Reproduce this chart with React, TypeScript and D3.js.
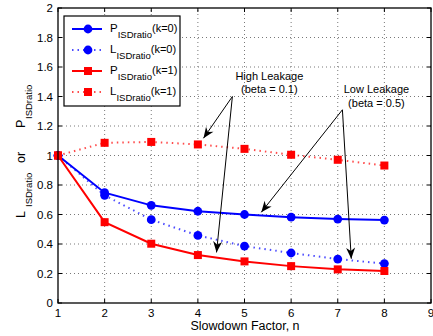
import * as d3 from "d3"

const factors = [1, 2, 3, 4, 5, 6, 7, 8]
const pK0 = [1, 0.748, 0.662, 0.622, 0.6, 0.582, 0.569, 0.562]
const lK0 = [1, 0.73, 0.565, 0.458, 0.386, 0.339, 0.298, 0.267]
const pK1 = [1, 0.548, 0.402, 0.325, 0.282, 0.25, 0.228, 0.217]
const lK1 = [1, 1.086, 1.092, 1.075, 1.045, 1.005, 0.971, 0.932]
const xTicks = [1, 2, 3, 4, 5, 6, 7, 8, 9]
const yTicks = [0, 0.2, 0.4, 0.6, 0.8, 1, 1.2, 1.4, 1.6, 1.8, 2]

const W = 433
const H = 336
const margin = { top: 8, right: 2, bottom: 33, left: 58 }
const FONT = "'Liberation Sans', Arial, Helvetica, sans-serif"

const BLUE = "#0000ff"
const RED = "#ff0000"

interface Series {
  name: string
  values: number[]
  color: string
  dotted: boolean
  marker: "circle" | "square"
}

const series: Series[] = [
  { name: "P", values: pK0, color: BLUE, dotted: false, marker: "circle" },
  { name: "L", values: lK0, color: BLUE, dotted: true, marker: "circle" },
  { name: "P", values: pK1, color: RED, dotted: false, marker: "square" },
  { name: "L", values: lK1, color: RED, dotted: true, marker: "square" },
]
const legendK = ["(k=0)", "(k=0)", "(k=1)", "(k=1)"]

function Marker({ x, y, s }: { x: number; y: number; s: Series }) {
  if (s.marker === "circle") return <circle cx={x} cy={y} r={4.4} fill={s.color} />
  return <rect x={x - 4} y={y - 4} width={8} height={8} fill={s.color} />
}

export default function App() {
  const x = d3.scaleLinear().domain([1, 9]).range([margin.left, W - margin.right])
  const y = d3.scaleLinear().domain([0, 2]).range([H - margin.bottom, margin.top])
  const x0 = x.range()[0], x1 = x.range()[1]
  const y0 = y.range()[0], y1 = y.range()[1]

  const line = (vals: number[]) =>
    d3.line<number>().x((_, i) => x(factors[i])).y(v => y(v))(vals) || ""

  // annotation geometry in data coordinates
  const hiAnchor = [4.74, 1.4]
  const loAnchor = [7.1, 1.31]
  const arrows: [number[], number[]][] = [
    [hiAnchor, [4.12, 1.117]],
    [hiAnchor, [4.4, 0.343]],
    [loAnchor, [5.36, 0.615]],
    [loAnchor, [7.29, 0.3]],
  ]

  const arrowHead = (from: number[], to: number[]) => {
    const fx = x(from[0]), fy = y(from[1]), tx = x(to[0]), ty = y(to[1])
    const a = Math.atan2(ty - fy, tx - fx)
    const len = 11, wid = 4.5
    const bx = tx - len * Math.cos(a), by = ty - len * Math.sin(a)
    const nx = -Math.sin(a) * wid, ny = Math.cos(a) * wid
    const mx = tx - len * 0.7 * Math.cos(a), my = ty - len * 0.7 * Math.sin(a)
    return `M${tx},${ty}L${bx + nx},${by + ny}L${mx},${my}L${bx - nx},${by - ny}Z`
  }

  const legX = 64, legY = 16, legW = 116, legH = 90
  const rowY = (i: number) => legY + 13 + i * 21

  return (
    <div style={{ position: "absolute", left: 0, top: 0 }}>
      <svg width={W} height={H} style={{ display: "block", fontFamily: FONT }}>
        <rect width={W} height={H} fill="#fff" />
        {/* grid */}
        <g stroke="#555" strokeWidth={0.8} strokeDasharray="1,3">
          {xTicks.slice(1, -1).map(t => (
            <line key={"gx" + t} x1={x(t)} x2={x(t)} y1={y0} y2={y1} />
          ))}
          {yTicks.slice(1, -1).map(t => (
            <line key={"gy" + t} x1={x0} x2={x1} y1={y(t)} y2={y(t)} />
          ))}
        </g>
        {/* ticks inward */}
        <g stroke="#000" strokeWidth={1}>
          {xTicks.map(t => (
            <g key={"tx" + t}>
              <line x1={x(t)} x2={x(t)} y1={y0} y2={y0 - 4} />
              <line x1={x(t)} x2={x(t)} y1={y1} y2={y1 + 4} />
            </g>
          ))}
          {yTicks.map(t => (
            <g key={"ty" + t}>
              <line x1={x0} x2={x0 + 4} y1={y(t)} y2={y(t)} />
              <line x1={x1} x2={x1 - 4} y1={y(t)} y2={y(t)} />
            </g>
          ))}
        </g>
        {/* tick labels */}
        <g fontSize={11.5} fill="#000">
          {xTicks.map(t => (
            <text key={"lx" + t} x={x(t)} y={y0 + 14} textAnchor="middle">{t}</text>
          ))}
          {yTicks.map(t => (
            <text key={"ly" + t} x={x0 - 5} y={y(t) + 4} textAnchor="end">{d3.format("~g")(t)}</text>
          ))}
        </g>
        {/* series */}
        {series.map((s, i) => (
          <g key={"s" + i}>
            <path
              d={line(s.values)}
              fill="none"
              stroke={s.color}
              strokeWidth={2}
              strokeDasharray={s.dotted ? "1.5,4" : undefined}
              strokeOpacity={s.dotted ? 0.7 : 1}
            />
            {s.values.map((v, j) => (
              <Marker key={j} x={x(factors[j])} y={y(v)} s={s} />
            ))}
          </g>
        ))}
        {/* frame */}
        <rect x={x0} y={y1} width={x1 - x0} height={y0 - y1} fill="none" stroke="#000" strokeWidth={1.3} />
        {/* annotations */}
        <g stroke="#000" strokeWidth={1} fill="#000">
          {arrows.map(([f, t], i) => (
            <g key={"ar" + i}>
              <line x1={x(f[0])} y1={y(f[1])} x2={x(t[0])} y2={y(t[1])} />
              <path d={arrowHead(f, t)} stroke="none" />
            </g>
          ))}
        </g>
        <g fontSize={11} fill="#000" textAnchor="middle">
          <text x={x(hiAnchor[0]) + 37} y={y(hiAnchor[1]) - 17}>High Leakage</text>
          <text x={x(hiAnchor[0]) + 37} y={y(hiAnchor[1]) - 4}>(beta = 0.1)</text>
          <text x={x(loAnchor[0]) + 34} y={y(loAnchor[1]) - 17}>Low Leakage</text>
          <text x={x(loAnchor[0]) + 34} y={y(loAnchor[1]) - 3}>(beta = 0.5)</text>
        </g>
        {/* legend */}
        <rect x={legX} y={legY} width={legW} height={legH} fill="#fff" stroke="#000" strokeWidth={1.2} />
        {series.map((s, i) => (
          <g key={"lg" + i}>
            <line
              x1={legX + 8} x2={legX + 38} y1={rowY(i)} y2={rowY(i)}
              stroke={s.color} strokeWidth={2}
              strokeDasharray={s.dotted ? "1.5,4" : undefined}
              strokeOpacity={s.dotted ? 0.7 : 1}
            />
            <Marker x={legX + 24} y={rowY(i)} s={s} />
            <text x={legX + 46} y={rowY(i) + 3} fontSize={11.5} fill="#000">
              {s.name}
              <tspan fontSize={9.5} dy={6}>ISDratio</tspan>
              <tspan fontSize={11} dy={-6}>{legendK[i]}</tspan>
            </text>
          </g>
        ))}
        {/* axis labels */}
        <text x={245} y={H - 6} fontSize={12.5} textAnchor="middle" fill="#000">
          Slowdown Factor, n
        </text>
        <text transform={`translate(25, 218) rotate(-90)`} fontSize={12.5} fill="#000">
          <tspan x={0}>L</tspan>
          <tspan x={11} dy={7} fontSize={9.5}>ISDratio</tspan>
          <tspan x={55} dy={-7}>or</tspan>
          <tspan x={90}>P</tspan>
          <tspan x={99} dy={7} fontSize={9.5}>ISDratio</tspan>
        </text>
      </svg>
    </div>
  )
}
